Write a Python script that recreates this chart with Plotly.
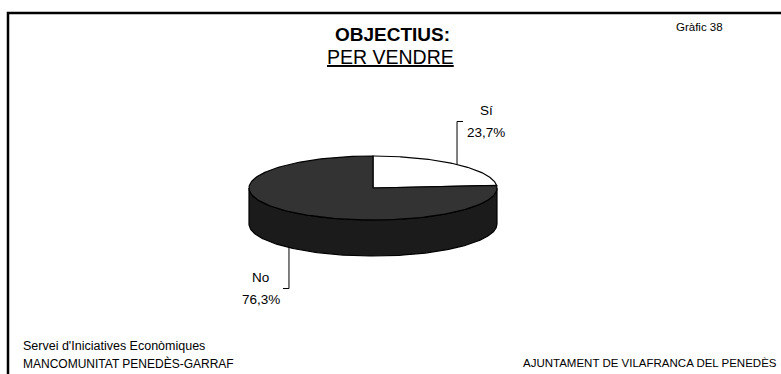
import numpy as np
import plotly.graph_objects as go

# ---- data ----
categories = ["Sí", "No"]
shares = [23.7, 76.3]
top_colors = ["#ffffff", "#333333"]
side_colors = ["#d9d9d9", "#1b1b1b"]

# ---- pie geometry (pixel space of the figure) ----
W, H = 781, 374
cx, cy = 373.0, 188.0
rx, ry = 124.0, 32.0
depth = 36.0


def ell(theta_deg, dy=0.0):
    t = np.radians(theta_deg)
    return cx + rx * np.cos(t), cy - ry * np.sin(t) + dy


def arc(a0, a1, dy=0.0, n=200):
    t = np.linspace(a0, a1, n)
    return ell(t, dy)


total = float(sum(shares))
ranges = []
start = 90.0
for v in shares:
    end = start - v * 360.0 / total
    ranges.append((end, start))
    start = end

fig = go.Figure()

# side walls: only the front half of the cylinder is visible
for (lo, hi), col in zip(ranges, side_colors):
    for f0, f1 in [(-180.0, 0.0), (180.0, 360.0)]:
        a, b = max(lo, f0), min(hi, f1)
        if b <= a:
            continue
        xt, yt = arc(a, b)
        xb, yb = arc(b, a, depth)
        xs = np.concatenate([xt, xb, xt[:1]])
        ys = np.concatenate([yt, yb, yt[:1]])
        fig.add_trace(go.Scatter(x=xs, y=ys, mode="lines", fill="toself",
                                 fillcolor=col, line=dict(color="black", width=1.2),
                                 hoverinfo="skip", showlegend=False))

# top faces
for (lo, hi), col in zip(ranges, top_colors):
    xa, ya = arc(hi, lo)
    xs = np.concatenate([[cx], xa, [cx]])
    ys = np.concatenate([[cy], ya, [cy]])
    fig.add_trace(go.Scatter(x=xs, y=ys, mode="lines", fill="toself",
                             fillcolor=col, line=dict(color="black", width=1.2),
                             hoverinfo="skip", showlegend=False))

# labels with leader lines
annotations = []
lead_len = {"Sí": 43.0, "No": 41.0}
for name, v, (lo, hi) in zip(categories, shares, ranges):
    mid = (lo + hi) / 2.0
    front = np.sin(np.radians(mid)) < 0
    x0, y0 = ell(mid, depth if front else 0.0)
    y1 = y0 + lead_len[name] if front else y0 - lead_len[name]
    right = np.cos(np.radians(mid)) > 0
    x1 = x0 + 6 if right else x0 - 6
    fig.add_trace(go.Scatter(x=[x0, x0, x1], y=[y0, y1, y1], mode="lines",
                             line=dict(color="black", width=1),
                             hoverinfo="skip", showlegend=False))
    pct = f"{v:.1f}%".replace(".", ",")
    tx = x1 + 23 if right else x1 - 22
    for line, dy in [(name, -11), (pct, 11)]:
        annotations.append(dict(x=tx, y=y1 + dy, text=line,
                                xanchor="center", yanchor="middle",
                                showarrow=False,
                                font=dict(size=13.5, color="black")))

# titles and captions
annotations += [
    dict(x=392, y=34, text="<b>OBJECTIUS:</b>", showarrow=False,
         xanchor="center", yanchor="middle", font=dict(size=19, color="black")),
    dict(x=390, y=57, text="<u>PER VENDRE</u>", showarrow=False,
         xanchor="center", yanchor="middle", font=dict(size=19.5, color="black")),
    dict(x=699, y=27, text="Gràfic 38", showarrow=False,
         xanchor="center", yanchor="middle", font=dict(size=11.5, color="black")),
    dict(x=21, y=346, text="Servei d'Iniciatives Econòmiques", showarrow=False,
         xanchor="left", yanchor="middle", font=dict(size=12.5, color="black")),
    dict(x=21, y=363, text="MANCOMUNITAT PENEDÈS-GARRAF", showarrow=False,
         xanchor="left", yanchor="middle", font=dict(size=12, color="black")),
    dict(x=779, y=363, text="AJUNTAMENT DE VILAFRANCA DEL PENEDÈS", showarrow=False,
         xanchor="right", yanchor="middle", font=dict(size=11.5, color="black")),
]

fig.update_layout(
    width=W, height=H,
    margin=dict(l=0, r=0, t=0, b=0),
    paper_bgcolor="white", plot_bgcolor="white",
    font=dict(family="Liberation Sans, Arial, sans-serif", color="black"),
    xaxis=dict(range=[0, W], visible=False, fixedrange=True),
    yaxis=dict(range=[H, 0], visible=False, fixedrange=True),
    annotations=annotations,
    shapes=[dict(type="path", path=f"M 8 {H + 5} L 8 13 L {W + 5} 13",
                 xref="x", yref="y", line=dict(color="black", width=2.5))],
    showlegend=False,
)

fig.write_html("out.html")
